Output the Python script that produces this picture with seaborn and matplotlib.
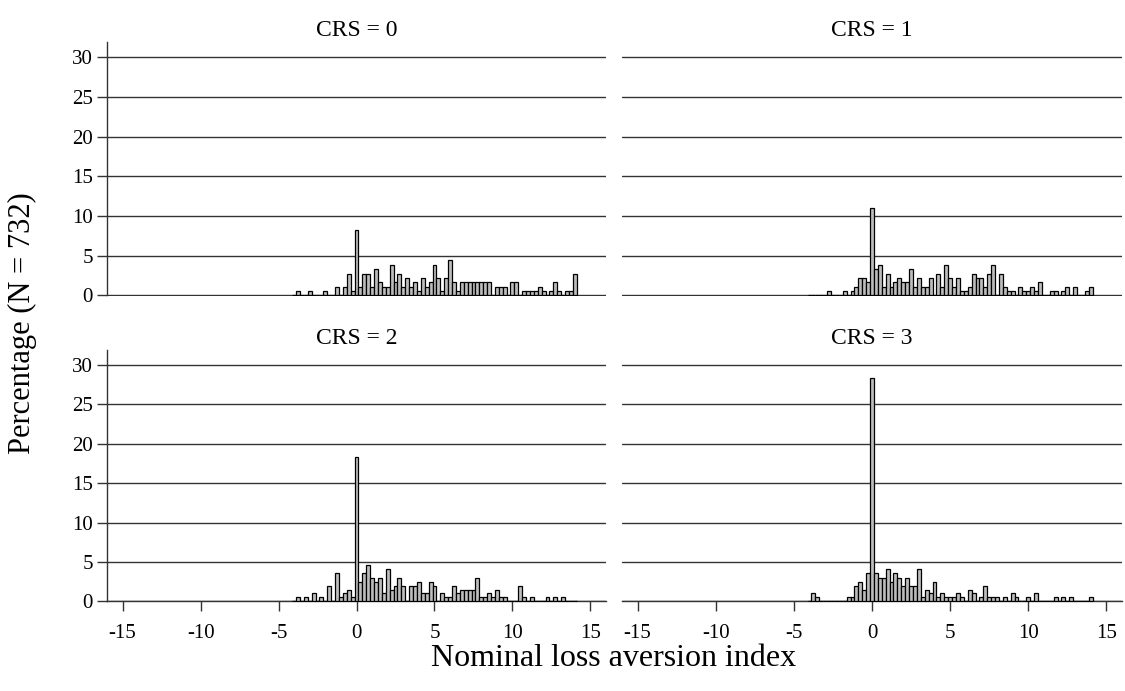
import numpy as np
import pandas as pd
import matplotlib
matplotlib.use("Agg")
import matplotlib.pyplot as plt
import seaborn as sns

sns.set_style("white")
plt.rcParams['font.family'] = ['Liberation Serif', 'DejaVu Serif']
plt.rcParams['text.color'] = 'black'

BIN = 0.25
# bin index k -> bin centre k*0.25 ; values are percentages within each panel
crs0_k = [-15, -12, -8, -5, -3, -2, -1, 0,
          1, 2, 3, 4, 5, 6, 7, 8, 9, 10, 11, 12, 13, 14, 15, 16, 17, 18, 19, 20,
          21, 22, 23, 24, 25, 26, 27, 28, 29, 30, 31, 32, 33, 34,
          36, 37, 38, 40, 41, 43, 44, 45, 46, 47, 48, 50, 51, 52, 54, 55, 56]
crs0_pct = [0.55, 0.55, 0.55, 1.1, 1.1, 2.75, 0.55, 8.2,
            1.1, 2.75, 2.75, 1.1, 3.3, 1.65, 1.1, 1.1, 3.85, 1.65, 2.75, 1.1, 2.2, 1.1, 1.65, 0.55, 2.2, 1.1, 1.65, 3.85,
            2.2, 0.55, 2.2, 4.4, 1.65, 0.55, 1.65, 1.65, 1.65, 1.65, 1.65, 1.65, 1.65, 1.65,
            1.1, 1.1, 1.1, 1.65, 1.65, 0.55, 0.55, 0.55, 0.55, 1.1, 0.55, 0.55, 1.65, 0.55, 0.55, 0.55, 2.75]

crs1_k = [-11, -7, -5, -4, -3, -2, -1, 0,
          1, 2, 3, 4, 5, 6, 7, 8, 9, 10, 11, 12, 13, 14, 15, 17, 18, 19, 20,
          21, 22, 23, 24, 25, 26, 27, 28, 29, 30, 31, 33, 34, 35, 36,
          38, 39, 40, 41, 42, 43, 46, 47, 49, 50, 52, 55, 56]
crs1_pct = [0.55, 0.55, 0.55, 1.1, 2.2, 2.2, 1.65, 11.0,
            3.3, 3.85, 1.1, 2.75, 1.1, 1.65, 2.2, 1.65, 1.65, 3.3, 1.1, 2.2, 1.1, 1.1, 2.2, 2.75, 1.1, 3.85, 2.2,
            1.1, 2.2, 0.55, 0.55, 1.1, 2.75, 2.2, 2.2, 1.1, 2.75, 3.85, 2.75, 1.1, 0.55, 0.55,
            1.1, 0.55, 0.55, 1.1, 0.55, 1.65, 0.55, 0.55, 0.55, 1.1, 1.1, 0.55, 1.1]

crs2_k = [-15, -13, -11, -9, -7, -5, -4, -3, -2, -1, 0,
          1, 2, 3, 4, 5, 6, 7, 8, 9, 10, 11, 12, 14, 15, 16, 17, 18, 19, 20,
          22, 23, 24, 25, 26, 27, 28, 29, 30, 31, 32, 33, 34, 35, 36, 37, 38,
          42, 43, 45, 49, 51, 53]
crs2_pct = [0.5, 0.5, 1.0, 0.5, 2.0, 3.6, 0.5, 1.0, 1.5, 0.5, 18.3,
            2.5, 3.6, 4.6, 3.0, 2.5, 3.0, 1.0, 4.1, 1.5, 2.0, 3.0, 2.0, 2.0, 2.0, 2.5, 1.0, 1.0, 2.5, 2.0,
            1.0, 0.5, 0.5, 2.0, 1.0, 1.5, 1.5, 1.5, 1.5, 3.0, 0.5, 0.5, 1.0, 0.5, 1.5, 0.5, 0.5,
            2.0, 0.5, 0.5, 0.5, 0.5, 0.5]

crs3_k = [-15, -14, -6, -5, -4, -3, -2, -1, 0,
          1, 2, 3, 4, 5, 6, 7, 8, 9, 10, 11, 12, 13, 14, 15, 16, 17, 18, 19, 20,
          21, 22, 23, 25, 26, 28, 29, 30, 31, 32, 34, 36, 37, 40, 42, 47, 49, 51, 56]
crs3_pct = [1.0, 0.5, 0.5, 0.5, 2.0, 2.5, 1.5, 3.6, 28.4,
            3.6, 3.0, 3.0, 4.1, 2.5, 3.6, 3.0, 2.0, 3.0, 2.0, 2.0, 4.1, 0.5, 1.5, 1.0, 2.5, 0.5, 1.0, 0.5, 0.5,
            0.5, 1.0, 0.5, 1.5, 1.0, 0.5, 2.0, 0.5, 0.5, 0.5, 0.5, 1.0, 0.5, 0.5, 1.0, 0.5, 0.5, 0.5, 0.5]

panels = ["CRS = 0", "CRS = 1", "CRS = 2", "CRS = 3"]
panel_k = [crs0_k, crs1_k, crs2_k, crs3_k]
panel_pct = [crs0_pct, crs1_pct, crs2_pct, crs3_pct]

xticks = [-15, -10, -5, 0, 5, 10, 15]
yticks = [0, 5, 10, 15, 20, 25, 30]

W, H = 1125, 691
fig = plt.figure(figsize=(W / 100, H / 100), dpi=100)

# axes boxes in pixels: (left, top, right, bottom)
boxes = [(107, 42, 606, 296), (622, 42, 1122, 296),
         (107, 350, 606, 602), (622, 350, 1122, 602)]
grid_col = "#333333"

for i, (name, ks, pcts) in enumerate(zip(panels, panel_k, panel_pct)):
    l, t, r, b = boxes[i]
    ax = fig.add_axes([l / W, 1 - b / H, (r - l) / W, (b - t) / H])
    df = pd.DataFrame({"x": np.array(ks, dtype=float) * BIN,
                       "pct": np.array(pcts, dtype=float)})
    sns.histplot(data=df, x="x", weights="pct", binwidth=BIN,
                 binrange=(-4.125, 14.125), stat="count",
                 color="#bdbdbd", edgecolor="black", linewidth=0.9, alpha=1,
                 ax=ax, zorder=3)
    ax.set_xlim(-16, 16)
    ax.set_ylim(-0.08, 31.9)
    ax.set_yticks(yticks)
    ax.set_xticks(xticks)
    ax.set_xlabel("")
    ax.set_ylabel("")
    ax.yaxis.grid(True, color=grid_col, lw=1.0, zorder=0)
    ax.xaxis.grid(False)
    ax.set_axisbelow(True)
    for s in ["top", "right"]:
        ax.spines[s].set_visible(False)
    left_col = (i % 2 == 0)
    bottom_row = (i >= 2)
    ax.spines["left"].set_visible(left_col)
    ax.spines["left"].set_color(grid_col)
    ax.spines["left"].set_linewidth(1.0)
    ax.spines["left"].set_bounds(0, 31.9)
    ax.spines["bottom"].set_visible(bottom_row)
    ax.spines["bottom"].set_color(grid_col)
    ax.spines["bottom"].set_linewidth(1.0)
    ax.spines["bottom"].set_position(("data", 0))
    ax.tick_params(axis="y", left=left_col, labelleft=left_col, length=7,
                   width=1.0, color=grid_col, labelcolor="black",
                   labelsize=15, pad=3)
    ax.tick_params(axis="x", bottom=bottom_row, labelbottom=bottom_row,
                   length=7, width=1.0, color=grid_col, labelcolor="black",
                   labelsize=15, pad=9)
    ax.set_xticklabels([str(v) for v in xticks])
    ax.set_title(name, fontsize=17, pad=4, color="black")

fig.text(22 / W, 1 - 323 / H, "Percentage (N = 732)", rotation=90,
         ha="center", va="center", fontsize=22, color="black")
fig.text(614 / W, 1 - 658 / H, "Nominal loss aversion index",
         ha="center", va="center", fontsize=23, color="black")

fig.savefig("out.png", dpi=100)
